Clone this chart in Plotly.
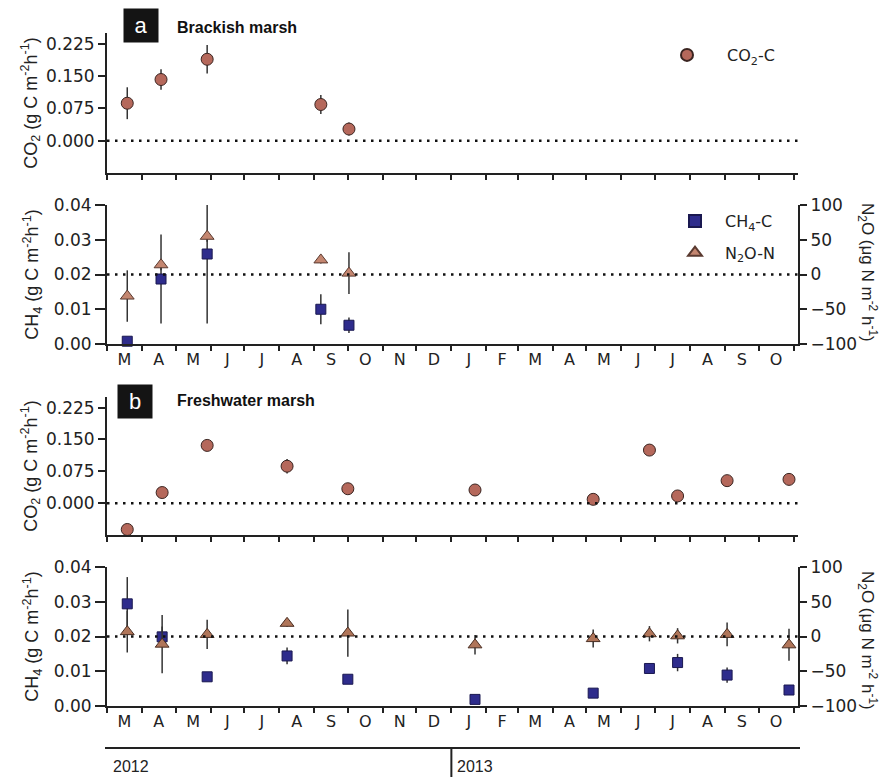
import pandas as pd
import plotly.graph_objects as go

# ---------------- data ----------------
months = ["M", "A", "M", "J", "J", "A", "S", "O", "N", "D",
          "J", "F", "M", "A", "M", "J", "J", "A", "S", "O"]
x_start, x_end = "2012-03-01", "2013-11-05"

dates_a = ["2012-03-19", "2012-04-18", "2012-05-29", "2012-09-07", "2012-10-02"]
co2_a = [0.087, 0.142, 0.189, 0.084, 0.027]
co2_a_err = [0.037, 0.024, 0.033, 0.022, 0.015]
ch4_a = [0.0008, 0.0187, 0.0259, 0.0100, 0.0054]
ch4_a_err_hi = [0.0, 0.0128, 0.0141, 0.0043, 0.0022]
ch4_a_err_lo = [0.0, 0.0128, 0.0200, 0.0043, 0.0022]
n2o_a = [-31, 14, 55, 21, 2]
n2o_a_err = [37, 8, 8, 5, 30]

dates_b = ["2012-03-19", "2012-04-19", "2012-05-29", "2012-08-08", "2012-10-01",
           "2013-01-22", "2013-05-07", "2013-06-26", "2013-07-21", "2013-09-03", "2013-10-28"]
co2_b = [-0.062, 0.025, 0.136, 0.087, 0.034, 0.031, 0.009, 0.125, 0.017, 0.053, 0.056]
co2_b_err = [0.005, 0.013, 0.006, 0.017, 0.004, 0.004, 0.008, 0.013, 0.007, 0.004, 0.004]
ch4_b = [0.0294, 0.0199, 0.0084, 0.0144, 0.0077, 0.0019, 0.0037, 0.0108, 0.0125, 0.0089, 0.0046]
ch4_b_err = [0.0077, 0.003, 0.0012, 0.0024, 0.0005, 0.0005, 0.0005, 0.0015, 0.0025, 0.0022, 0.0008]
n2o_b = [7, -11, 3, 19, 5, -12, -3, 4, 1, 3, -12]
n2o_b_err = [30, 42, 21, 5, 34, 14, 13, 11, 11, 17, 23]

co2_ticks = [0.0, 0.075, 0.15, 0.225]
ch4_ticks = [0.0, 0.01, 0.02, 0.03, 0.04]
n2o_ticks = [-100, -50, 0, 50, 100]
years = ["2012", "2013"]

# ---------------- styles ----------------
FONT = "Liberation Sans, Arial, sans-serif"
TFONT = "DejaVu Sans, sans-serif"
AX = "#222222"
ERR = "#333333"
C_CO2 = "#b5685b"
C_CH4 = "#2e2c8c"
C_N2O_A = "#c48670"
C_N2O_B = "#b07559"

starts = pd.date_range("2012-03-01", "2013-11-01", freq="MS")
mids = [starts[i] + (starts[i + 1] - starts[i]) / 2 for i in range(len(starts) - 1)]
quarters = [d for d in starts if d.month in (3, 6, 9, 12)]

W, H = 886, 777
xdom = [107 / W, 798 / W]


def ydom(top, bot):
    return [1 - bot / H, 1 - top / H]


fig = go.Figure()


def err(arr, arrm=None):
    d = dict(type="data", array=arr, color=ERR, thickness=1.5, width=0, visible=True)
    if arrm is not None:
        d["arrayminus"] = arrm
        d["symmetric"] = False
    return d


circle = dict(symbol="circle", size=12, color=C_CO2, line=dict(color="#3a2420", width=1))
square = dict(symbol="square", size=10, color=C_CH4, line=dict(color="#1a1850", width=1))

# Panel a CO2
fig.add_trace(go.Scatter(x=dates_a, y=co2_a, mode="markers", name="CO<sub>2</sub>-C",
                         xaxis="x", yaxis="y", error_y=err(co2_a_err), cliponaxis=False,
                         marker=circle, legend="legend"))
# Panel a CH4 / N2O
fig.add_trace(go.Scatter(x=dates_a, y=ch4_a, mode="markers", name="CH<sub>4</sub>-C",
                         xaxis="x2", yaxis="y2", error_y=err(ch4_a_err_hi, ch4_a_err_lo),
                         cliponaxis=False, marker=square, legend="legend2",
                         legendgroup="ch4"))
fig.add_trace(go.Scatter(x=dates_a, y=n2o_a, mode="markers", name="N<sub>2</sub>O-N",
                         xaxis="x2", yaxis="y3", error_y=err(n2o_a_err), cliponaxis=False,
                         marker=dict(symbol="triangle-up", size=12, color=C_N2O_A,
                                     line=dict(color="#5a3a30", width=1)),
                         legend="legend2", legendgroup="n2o"))
# Panel b CO2
fig.add_trace(go.Scatter(x=dates_b, y=co2_b, mode="markers", name="CO<sub>2</sub>-C",
                         xaxis="x3", yaxis="y4", error_y=err(co2_b_err), cliponaxis=False,
                         showlegend=False, marker=circle))
# Panel b CH4 / N2O
fig.add_trace(go.Scatter(x=dates_b, y=ch4_b, mode="markers", name="CH<sub>4</sub>-C",
                         xaxis="x4", yaxis="y5", error_y=err(ch4_b_err), cliponaxis=False,
                         showlegend=False, marker=square))
fig.add_trace(go.Scatter(x=dates_b, y=n2o_b, mode="markers", name="N<sub>2</sub>O-N",
                         xaxis="x4", yaxis="y6", error_y=err(n2o_b_err), cliponaxis=False,
                         showlegend=False,
                         marker=dict(symbol="triangle-up", size=12, color=C_N2O_B,
                                     line=dict(color="#4a2e22", width=1))))

panels = {"p1": (33, 173), "p2": (205, 344), "p3": (397, 535), "p4": (567, 706)}

tickfont = dict(family=TFONT, size=17, color="#222")
monthfont = dict(family=TFONT, size=16, color="#222")


def xaxis(anchor, labels):
    return dict(domain=xdom, anchor=anchor, type="date", range=[x_start, x_end],
                showline=True, linecolor=AX, linewidth=2, automargin=False,
                tickmode="array", tickvals=mids, ticktext=months, ticks="",
                showticklabels=labels, tickfont=monthfont, showgrid=False, zeroline=False,
                minor=dict(ticks="outside", dtick="M1", tick0="2012-03-01",
                           ticklen=5, tickwidth=1.5, tickcolor=AX, showgrid=False))


def xquarter(overlay, anchor):
    return dict(domain=xdom, anchor=anchor, overlaying=overlay, type="date",
                range=[x_start, x_end], showline=False, tickmode="array",
                tickvals=quarters, ticks="outside", ticklen=8, tickwidth=1.5,
                tickcolor=AX, showticklabels=False, showgrid=False, zeroline=False,
                automargin=False)


def yaxis(dom, rng, tv, fmt, title, anchor, ticklen, standoff):
    return dict(domain=dom, anchor=anchor, range=rng, tickmode="array", tickvals=tv,
                tickformat=fmt, showline=True, linecolor=AX, linewidth=2,
                ticks="outside", ticklen=ticklen, tickwidth=1.5, tickcolor=AX,
                tickfont=tickfont, showgrid=False, zeroline=False, automargin=False,
                title=dict(text=title, font=dict(family=FONT, size=18, color="#222"),
                           standoff=standoff))


def yright(dom, anchor, overlay):
    return dict(domain=dom, anchor=anchor, overlaying=overlay, side="right",
                range=[-100, 100], tickmode="array", tickvals=n2o_ticks,
                showline=True, linecolor=AX, linewidth=2, ticks="outside", ticklen=7,
                tickwidth=1.5, tickcolor=AX, tickfont=tickfont, showgrid=False,
                zeroline=False, automargin=False)


co2_title = "CO<sub>2</sub> (g C m<sup>-2</sup>h<sup>-1</sup>)"
ch4_title = "CH<sub>4</sub> (g C m<sup>-2</sup>h<sup>-1</sup>)"

fig.update_layout(
    template="none",
    xaxis=xaxis("y", False),
    xaxis2=xaxis("y2", True),
    xaxis3=xaxis("y4", False),
    xaxis4=xaxis("y5", True),
    xaxis5=xquarter("x", "y"),
    xaxis6=xquarter("x2", "y2"),
    xaxis7=xquarter("x3", "y4"),
    xaxis8=xquarter("x4", "y5"),
    yaxis=yaxis(ydom(*panels["p1"]), [-0.075, 0.25], co2_ticks, ".3f", co2_title, "x", 7, 4),
    yaxis2=yaxis(ydom(*panels["p2"]), [0, 0.04], ch4_ticks, ".2f", ch4_title, "x2", 10, 10),
    yaxis3=yright(ydom(*panels["p2"]), "x2", "y2"),
    yaxis4=yaxis(ydom(*panels["p3"]), [-0.075, 0.25], co2_ticks, ".3f", co2_title, "x3", 7, 4),
    yaxis5=yaxis(ydom(*panels["p4"]), [0, 0.04], ch4_ticks, ".2f", ch4_title, "x4", 10, 10),
    yaxis6=yright(ydom(*panels["p4"]), "x4", "y5"),
)

# reference dotted lines
for xr, yr in [("x", "y"), ("x2", "y3"), ("x3", "y4"), ("x4", "y6")]:
    fig.add_shape(type="line", xref=f"{xr} domain", yref=yr, x0=0, x1=1, y0=0, y1=0,
                  line=dict(color="#111", width=2.5, dash="2.5px,5.5px"), layer="above")

# year bar
ybar = 1 - 748 / H
fig.add_shape(type="line", xref="paper", yref="paper", x0=105 / W, x1=800 / W,
              y0=ybar, y1=ybar, line=dict(color=AX, width=2))
fig.add_shape(type="line", xref="x4", yref="paper", x0="2013-01-01", x1="2013-01-01",
              y0=ybar, y1=0, line=dict(color=AX, width=2))
for yr, d in zip(years, ["2012-03-01", "2013-01-01"]):
    fig.add_annotation(text=yr, xref="x4", yref="paper", x=d, y=1 - 766 / H,
                       xanchor="left", yanchor="middle", xshift=4, showarrow=False,
                       font=dict(family=FONT, size=16, color="#222"))

# panel labels
for lab, cx, cy, title, ty in [("a", 141, 25.5, "Brackish marsh", 28),
                               ("b", 134.5, 401, "Freshwater marsh", 400)]:
    fig.add_annotation(text=lab, xref="paper", yref="paper", x=cx / W, y=1 - cy / H,
                       xanchor="center", yanchor="middle", showarrow=False,
                       width=32, height=31, bgcolor="#141414",
                       font=dict(family=FONT, size=22, color="white"))
    fig.add_annotation(text=f"<b>{title}</b>", xref="paper", yref="paper", x=175 / W,
                       y=1 - ty / H, xanchor="left", yanchor="middle", showarrow=False,
                       font=dict(family=FONT, size=16, color="#111"))

# right titles
n2o_title = "N<sub>2</sub>O (μg N m<sup>-2</sup> h<sup>-1</sup>)"
for cy in [272, 640]:
    fig.add_annotation(text=n2o_title, xref="paper", yref="paper", x=868 / W,
                       y=1 - cy / H, xanchor="center", yanchor="middle", textangle=90,
                       showarrow=False, font=dict(family=FONT, size=17, color="#222"))

fig.update_layout(
    width=W, height=H, margin=dict(l=0, r=0, t=0, b=0, autoexpand=False),
    paper_bgcolor="white", plot_bgcolor="white",
    font=dict(family=FONT, color="#222"),
    legend=dict(x=647 / W, y=1 - 38 / H, xanchor="left", yanchor="top",
                bgcolor="rgba(0,0,0,0)", font=dict(family=TFONT, size=16),
                itemsizing="constant", itemwidth=70),
    legend2=dict(x=665 / W, y=1 - 204 / H, xanchor="left", yanchor="top",
                 bgcolor="rgba(0,0,0,0)", font=dict(family=TFONT, size=16),
                 itemsizing="constant", itemwidth=50, tracegroupgap=8),
)

fig.write_html("out.html", config={"displayModeBar": False},
               post_script="document.body.style.margin='0px';")
